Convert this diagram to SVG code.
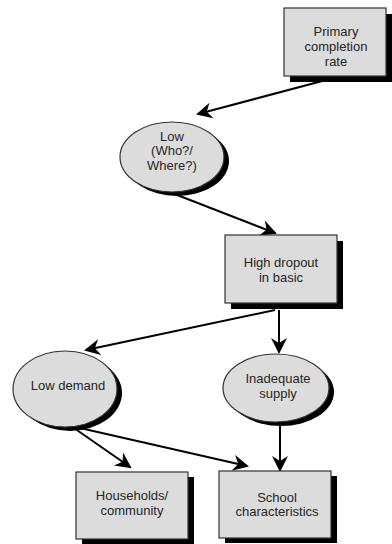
<svg xmlns="http://www.w3.org/2000/svg" width="392" height="544" viewBox="0 0 392 544">
  <style>
    .shape { fill: #dcdcdc; stroke: #333333; stroke-width: 1.2; }
    .shadow { fill: #000000; }
    .label { font-family: "Liberation Sans", Arial, sans-serif; font-size: 13px; fill: #262626; text-anchor: middle; }
    .edge { fill: none; stroke: #000000; stroke-width: 2; marker-end: url(#head); }
  </style>
  <defs>
    <marker id="head" markerUnits="userSpaceOnUse" markerWidth="20" markerHeight="20" viewBox="-18 -10 20 20" refX="-2" refY="0" orient="auto">
      <path d="M0,0 L-16,-8 L-11,0 L-16,8 Z" fill="#000000"/>
    </marker>
  </defs>

  <rect width="392" height="544" fill="#ffffff"/>

  <!-- connectors -->
  <g id="connectors">
    <line class="edge" x1="326" y1="80" x2="198" y2="114"/>
    <line class="edge" x1="172" y1="193" x2="275" y2="233"/>
    <line class="edge" x1="275" y1="310" x2="86" y2="350"/>
    <line class="edge" x1="279" y1="310" x2="279" y2="352"/>
    <line class="edge" x1="74" y1="428" x2="130" y2="467"/>
    <line class="edge" x1="80" y1="428" x2="247" y2="466"/>
    <line class="edge" x1="280" y1="426" x2="280" y2="470"/>
  </g>

  <!-- nodes -->
  <g id="primary-completion-rate">
    <rect class="shadow" x="290" y="14" width="102" height="68"/>
    <rect class="shape" x="284" y="8" width="102" height="68"/>
    <text class="label" x="336" y="36">Primary</text>
    <text class="label" x="336" y="51">completion</text>
    <text class="label" x="336" y="66">rate</text>
  </g>

  <g id="low-who-where">
    <ellipse class="shadow" cx="177" cy="161" rx="52" ry="35"/>
    <ellipse class="shape" cx="172" cy="157" rx="52" ry="35"/>
    <text class="label" x="172" y="141">Low</text>
    <text class="label" x="172" y="155">(Who?/</text>
    <text class="label" x="172" y="170">Where?)</text>
  </g>

  <g id="high-dropout">
    <rect class="shadow" x="231" y="241" width="112" height="68"/>
    <rect class="shape" x="225" y="235" width="112" height="68"/>
    <text class="label" x="281" y="267">High dropout</text>
    <text class="label" x="281" y="282">in basic</text>
  </g>

  <g id="low-demand">
    <ellipse class="shadow" cx="70" cy="393" rx="52" ry="38"/>
    <ellipse class="shape" cx="65" cy="389" rx="52" ry="38"/>
    <text class="label" x="68" y="390">Low demand</text>
  </g>

  <g id="inadequate-supply">
    <ellipse class="shadow" cx="281" cy="392" rx="53" ry="34"/>
    <ellipse class="shape" cx="276" cy="388" rx="53" ry="34"/>
    <text class="label" x="278" y="383">Inadequate</text>
    <text class="label" x="278" y="398">supply</text>
  </g>

  <g id="households-community">
    <rect class="shadow" x="82" y="477" width="112" height="67"/>
    <rect class="shape" x="76" y="472" width="112" height="67"/>
    <text class="label" x="132" y="500">Households/</text>
    <text class="label" x="132" y="515">community</text>
  </g>

  <g id="school-characteristics">
    <rect class="shadow" x="225" y="476" width="112" height="67"/>
    <rect class="shape" x="219" y="471" width="112" height="67"/>
    <text class="label" x="277" y="502">School</text>
    <text class="label" x="277" y="516">characteristics</text>
  </g>
</svg>
